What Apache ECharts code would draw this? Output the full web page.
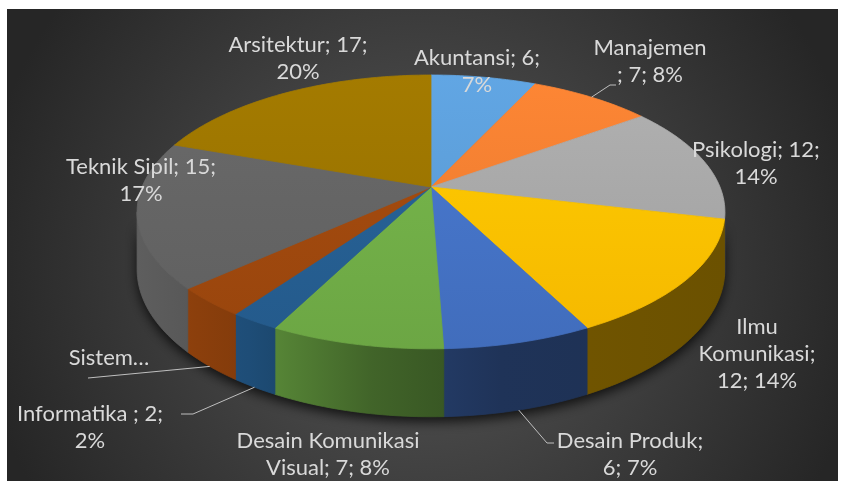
<!DOCTYPE html>
<html>
<head>
<meta charset="utf-8">
<script src="https://cdn.jsdelivr.net/npm/echarts@6.0.0/dist/echarts.min.js"></script>
<style>
  html, body { margin: 0; padding: 0; background: #fff; }
  #chart { width: 843px; height: 486px; }
</style>
</head>
<body>
<div id="chart"></div>
<script>
// data (Excel 3-D pie, clockwise from 12 o'clock)
const categories = ['Akuntansi', 'Manajemen ', 'Psikologi', 'Ilmu Komunikasi', 'Desain Produk',
  'Desain Komunikasi Visual', 'Informatika ', 'Sistem Informasi', 'Teknik Sipil', 'Arsitektur']
const values = [6, 7, 12, 12, 6, 7, 2, 3, 15, 17]
const colors = ['#5B9BD5', '#ED7D31', '#A5A5A5', '#FFC000', '#4472C4',
  '#70AD47', '#255E91', '#9E480E', '#636363', '#997300']

// where each data label sits; br = word index where a new line starts
const labelLayout = [
  { x: 477, y: 58, br: [2] },
  { x: 650, y: 48, br: [1], leader: { from: 'top', pts: [[610, 85], [616, 85]] } },
  { x: 756, y: 150, br: [2] },
  { x: 757, y: 327, br: [1, 2] },
  { x: 630, y: 441, br: [2], leader: { from: 'bottom', pts: [[547, 443], [554, 443]] } },
  { x: 328, y: 441, br: [2] },
  { x: 90, y: 414, br: [3], leader: { from: 'bottom', pts: [[193, 414], [181, 414]] } },
  { x: 109, y: 358, keep: 1, leader: { from: 'bottom', pts: [[88, 378]] } },
  { x: 141, y: 167, br: [3] },
  { x: 298, y: 45, br: [2] }
]

// projection of the tilted disc
const CX = 431, CY = 187, R = 289, SIN_A = 0.458, U = 0.182, H = 55.6
const SIL = Math.acos(-U) * 180 / Math.PI // silhouette angle (~100.5deg)

const total = values.reduce((a, b) => a + b, 0)
const starts = []
values.reduce((acc, v, i) => { starts[i] = acc; return acc + v }, 0)

function rim(deg, depth) {
  const t = deg * Math.PI / 180
  const s = 1 / (1 + U * Math.cos(t))
  return [CX + R * Math.sin(t) * s, CY - R * Math.cos(t) * SIN_A * s + depth * s]
}
function arc(a0, a1, depth) {
  const n = Math.max(2, Math.ceil(Math.abs(a1 - a0)))
  const out = []
  for (let k = 0; k <= n; k++) out.push(rim(a0 + (a1 - a0) * k / n, depth))
  return out
}
function shade(hex, f) {
  const c = echarts.color.parse(hex)
  const ch = x => Math.max(0, Math.min(255, Math.round(x * f)))
  return 'rgb(' + ch(c[0]) + ',' + ch(c[1]) + ',' + ch(c[2]) + ')'
}
function topFill(hex) {
  return new echarts.graphic.LinearGradient(0, 75, 0, 350, [
    { offset: 0, color: shade(hex, 1.07) },
    { offset: 1, color: shade(hex, 0.96) }
  ], true)
}
function sideFill(hex) {
  return new echarts.graphic.LinearGradient(137, 0, 725, 0, [
    { offset: 0, color: shade(hex, 0.95) },
    { offset: 0.19, color: shade(hex, 0.82) },
    { offset: 0.4, color: shade(hex, 0.58) },
    { offset: 0.62, color: shade(hex, 0.45) },
    { offset: 1, color: shade(hex, 0.42) }
  ], true)
}
function angles(i, v) {
  return [starts[i] / total * 360, (starts[i] + v) / total * 360]
}

const pieData = values.map((v, i) => ({ name: categories[i], value: v }))
const chart = echarts.init(document.getElementById('chart'))

const frontShadow = [...arc(SIL, 360 - SIL, 0), ...arc(360 - SIL, SIL, H)]

chart.setOption({
  backgroundColor: '#fff',
  animation: false,
  graphic: [
    {
      type: 'rect', z: 0,
      shape: { x: 7, y: 9, width: 831, height: 472 },
      style: {
        fill: new echarts.graphic.RadialGradient(0.5, 0.55, 0.95, [
          { offset: 0, color: '#585858' },
          { offset: 1, color: '#262626' }
        ])
      }
    },
    {
      type: 'polygon', z: 1,
      shape: { points: frontShadow },
      style: { fill: '#222', shadowBlur: 12, shadowOffsetY: 5, shadowColor: 'rgba(0,0,0,0.75)' }
    }
  ],
  series: [
    {
      // outer wall of the disc
      type: 'custom', coordinateSystem: 'none', z: 2, silent: true,
      data: pieData,
      renderItem(params, api) {
        const i = params.dataIndex
        const [a0, a1] = angles(i, api.value(0))
        const s0 = Math.max(a0, SIL), s1 = Math.min(a1, 360 - SIL)
        if (s1 <= s0) return { type: 'group', children: [] }
        const fill = sideFill(colors[i])
        return {
          type: 'polygon',
          shape: { points: [...arc(s0, s1, 0), ...arc(s1, s0, H)] },
          style: { fill, stroke: fill, lineWidth: 0.8 }
        }
      }
    },
    {
      // top face
      type: 'custom', coordinateSystem: 'none', z: 3, silent: true,
      data: pieData,
      renderItem(params, api) {
        const i = params.dataIndex
        const [a0, a1] = angles(i, api.value(0))
        const fill = topFill(colors[i])
        return {
          type: 'polygon',
          shape: { points: [[CX, CY], ...arc(a0, a1, 0)] },
          style: { fill, stroke: fill, lineWidth: 0.8 }
        }
      }
    },
    {
      // data labels "name; value; pct"
      type: 'custom', coordinateSystem: 'none', z: 4, silent: true,
      data: pieData,
      renderItem(params, api) {
        const i = params.dataIndex
        const v = api.value(0)
        const lay = labelLayout[i]
        const pct = Math.round(v / total * 100)
        const words = (categories[i] + '; ' + v + '; ' + pct + '%').split(' ')
        let text
        if (lay.keep) {
          text = words.slice(0, lay.keep).join(' ') + '\u2026'
        } else {
          const lines = []
          let cur = []
          words.forEach((w, k) => {
            if (lay.br.indexOf(k) >= 0) { lines.push(cur.join(' ')); cur = [] }
            cur.push(w)
          })
          lines.push(cur.join(' '))
          text = lines.join('\n')
        }
        const children = [{
          type: 'text',
          x: lay.x, y: lay.y - 13.5,
          style: {
            text, fill: '#d9d9d9', font: '22px Lato',
            align: 'center', verticalAlign: 'top', lineHeight: 27
          }
        }]
        if (lay.leader) {
          const [a0, a1] = angles(i, v)
          const start = rim((a0 + a1) / 2, lay.leader.from === 'bottom' ? H : 0)
          children.push({
            type: 'polyline',
            shape: { points: [start, ...lay.leader.pts] },
            style: { stroke: '#bfbfbf', lineWidth: 1, fill: null }
          })
        }
        return { type: 'group', children }
      }
    }
  ]
})
</script>
</body>
</html>
